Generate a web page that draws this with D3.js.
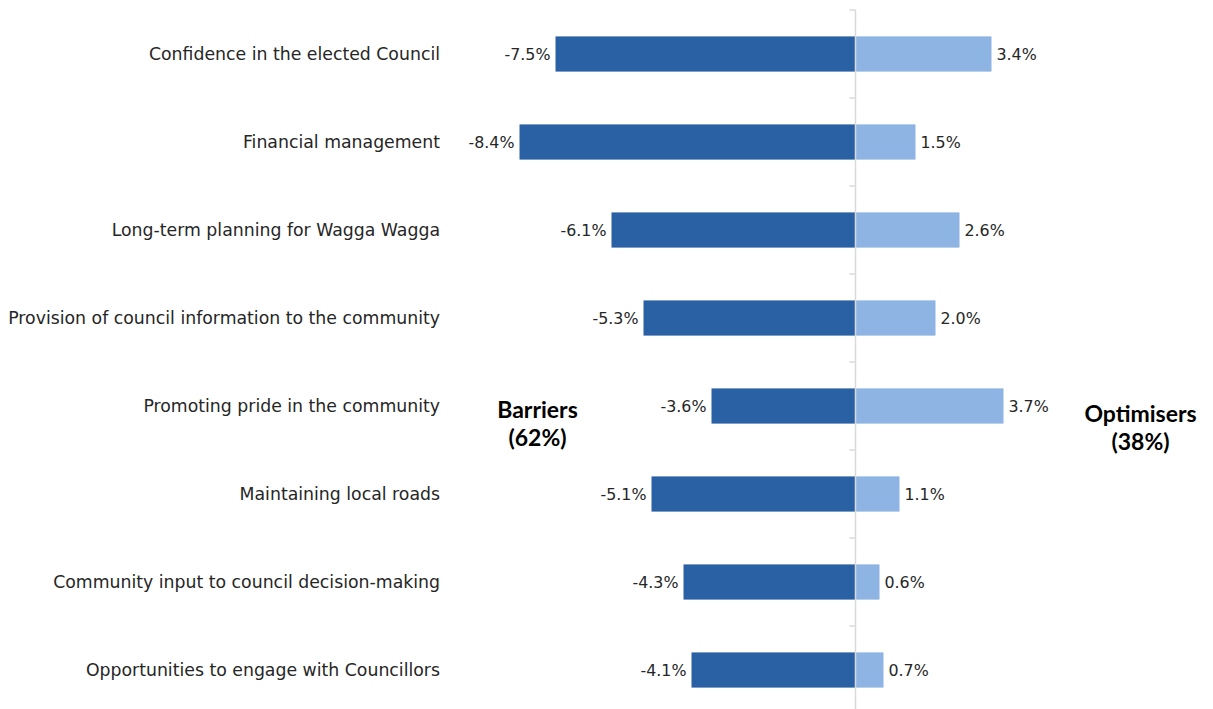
<!DOCTYPE html>
<html>
<head>
<meta charset="utf-8">
<script src="https://cdn.jsdelivr.net/npm/d3@7"></script>
<style>
  html, body { margin: 0; padding: 0; background: #ffffff; }
  svg { display: block; }
  text { font-family: "DejaVu Sans", "Liberation Sans", sans-serif; }
  text.heading { font-family: "Lato", "DejaVu Sans", sans-serif; }
</style>
</head>
<body>
<svg id="chart" width="1213" height="709"></svg>
<script>
// Council service attributes, split into barriers (negative) and optimisers (positive)
const categories = [
  "Confidence in the elected Council",
  "Financial management",
  "Long-term planning for Wagga Wagga",
  "Provision of council information to the community",
  "Promoting pride in the community",
  "Maintaining local roads",
  "Community input to council decision-making",
  "Opportunities to engage with Councillors"
];
const barriers   = [-7.5, -8.4, -6.1, -5.3, -3.6, -5.1, -4.3, -4.1];
const optimisers = [ 3.4,  1.5,  2.6,  2.0,  3.7,  1.1,  0.6,  0.7];
const groupLabels = [["Barriers", "(62%)"], ["Optimisers", "(38%)"]];

const svg = d3.select("#chart");

const x = d3.scaleLinear().domain([-10, 6]).range([455.5, 1095.5]);
const y = d3.scaleBand().domain(categories).range([10, 714]).paddingInner(0.6).paddingOuter(0.3);

const darkBlue = "#2A61A5";
const lightBlue = "#8EB4E3";
const textCol = "#262626";

// Scale a font size so that a text sample spans the wanted width
function fitSize(sample, base, wanted, weight) {
  const t = svg.append("text").attr("font-size", base).attr("font-weight", weight || "normal").text(sample);
  const w = t.node().getComputedTextLength();
  t.remove();
  return base * wanted / w;
}
const catSize = fitSize(categories[3], 16, 432);
const valSize = fitSize("-7.5%", 15, 46);

// Barrier bars
svg.append("g").selectAll("rect").data(categories).join("rect")
  .attr("x", (d, i) => x(barriers[i]))
  .attr("y", d => y(d))
  .attr("width", (d, i) => x(0) - x(barriers[i]))
  .attr("height", y.bandwidth())
  .attr("fill", darkBlue);

// Optimiser bars
svg.append("g").selectAll("rect").data(categories).join("rect")
  .attr("x", x(0))
  .attr("y", d => y(d))
  .attr("width", (d, i) => x(optimisers[i]) - x(0))
  .attr("height", y.bandwidth())
  .attr("fill", lightBlue);

// Category axis at zero, ticks on band boundaries
const axis = svg.append("g").attr("transform", `translate(${x(0)},0)`);
axis.append("line")
  .attr("x1", 0).attr("x2", 0).attr("y1", 10).attr("y2", 714)
  .attr("stroke", "#d9d9d9").attr("stroke-width", 1.5);
const boundaries = categories.map(c => y(c) - y.step() * y.paddingInner() / 2).concat([714]);
axis.selectAll("line.tick").data(boundaries).join("line")
  .attr("class", "tick")
  .attr("x1", -6).attr("x2", 0)
  .attr("y1", d => d).attr("y2", d => d)
  .attr("stroke", "#d9d9d9").attr("stroke-width", 1.5);

// Category labels
svg.append("g").selectAll("text").data(categories).join("text")
  .attr("x", 440)
  .attr("y", d => y(d) + y.bandwidth() / 2)
  .attr("dy", "0.35em")
  .attr("text-anchor", "end")
  .attr("font-size", catSize)
  .attr("fill", textCol)
  .text(d => d);

const fmt = v => v.toFixed(1) + "%";

// Value labels
svg.append("g").selectAll("text").data(categories).join("text")
  .attr("x", (d, i) => x(barriers[i]) - 5)
  .attr("y", d => y(d) + y.bandwidth() / 2)
  .attr("dy", "0.35em")
  .attr("text-anchor", "end")
  .attr("font-size", valSize)
  .attr("fill", textCol)
  .text((d, i) => fmt(barriers[i]));

svg.append("g").selectAll("text").data(categories).join("text")
  .attr("x", (d, i) => x(optimisers[i]) + 5)
  .attr("y", d => y(d) + y.bandwidth() / 2)
  .attr("dy", "0.35em")
  .attr("text-anchor", "start")
  .attr("font-size", valSize)
  .attr("fill", textCol)
  .text((d, i) => fmt(optimisers[i]));

// Group headings, two lines each
const headingPos = [[537.5, 418], [1140.5, 422]];
groupLabels.forEach((lines, k) => {
  lines.forEach((s, j) => {
    svg.append("text")
      .attr("class", "heading")
      .attr("x", headingPos[k][0])
      .attr("y", headingPos[k][1] + j * 28)
      .attr("text-anchor", "middle")
      .attr("font-size", 23).attr("font-weight", "bold")
      .attr("fill", "#000000")
      .text(s);
  });
});
</script>
</body>
</html>
